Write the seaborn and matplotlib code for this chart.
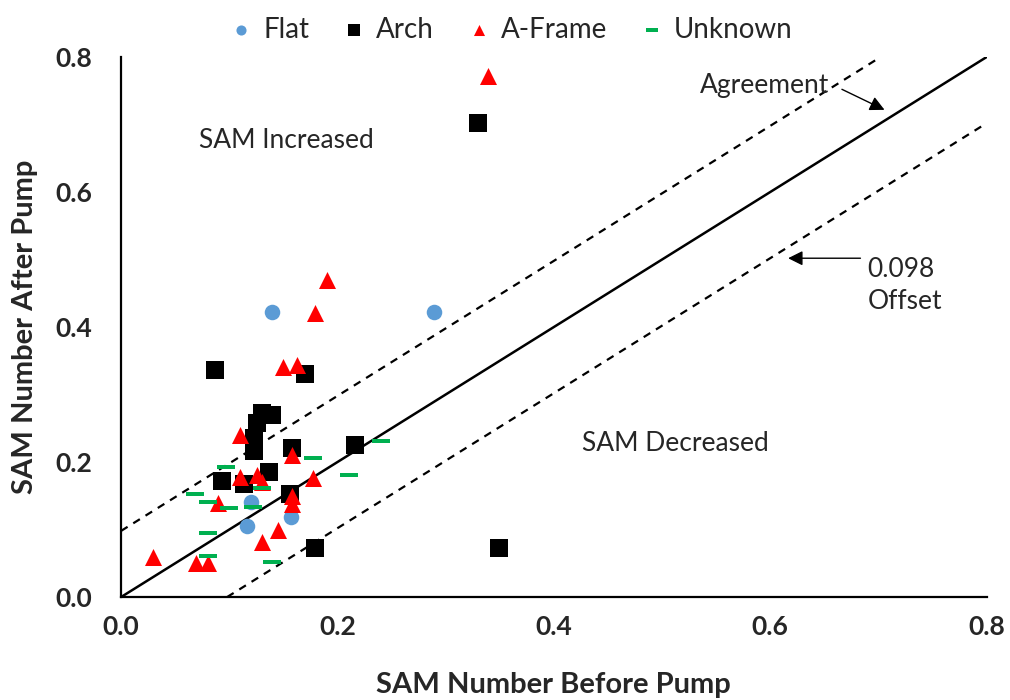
import numpy as np
import pandas as pd
import matplotlib
matplotlib.use("Agg")
import matplotlib.pyplot as plt
from matplotlib.path import Path
import seaborn as sns

# SAM numbers measured before and after the pump, by roof type
flat_before = [0.140, 0.289, 0.120, 0.116, 0.157]
flat_after = [0.422, 0.422, 0.141, 0.105, 0.118]

arch_before = [0.330, 0.349, 0.179, 0.087, 0.170, 0.130, 0.140, 0.126,
               0.123, 0.123, 0.158, 0.216, 0.093, 0.114, 0.137, 0.156]
arch_after = [0.702, 0.073, 0.073, 0.336, 0.330, 0.273, 0.270, 0.258,
              0.236, 0.216, 0.221, 0.225, 0.172, 0.167, 0.185, 0.153]

aframe_before = [0.339, 0.190, 0.179, 0.150, 0.163, 0.110, 0.158, 0.177,
                 0.110, 0.126, 0.130, 0.090, 0.158, 0.158, 0.145, 0.130,
                 0.030, 0.069, 0.080]
aframe_after = [0.772, 0.470, 0.421, 0.341, 0.344, 0.240, 0.210, 0.176,
                0.178, 0.181, 0.170, 0.139, 0.150, 0.138, 0.099, 0.081,
                0.059, 0.050, 0.050]

unknown_before = [0.240, 0.177, 0.211, 0.097, 0.130, 0.068, 0.080, 0.100,
                  0.122, 0.080, 0.080, 0.140]
unknown_after = [0.231, 0.206, 0.181, 0.193, 0.162, 0.153, 0.141, 0.132,
                 0.133, 0.095, 0.061, 0.052]

roof_types = ["Flat", "Arch", "A-Frame", "Unknown"]
offset = 0.098
ticks = [0.0, 0.2, 0.4, 0.6, 0.8]

df = pd.DataFrame({
    "before": flat_before + arch_before + aframe_before + unknown_before,
    "after": flat_after + arch_after + aframe_after + unknown_after,
    "type": (["Flat"] * len(flat_before) + ["Arch"] * len(arch_before)
             + ["A-Frame"] * len(aframe_before) + ["Unknown"] * len(unknown_before)),
})

sns.set_theme(style="white")
plt.rcParams["font.family"] = ["Lato", "DejaVu Sans"]

palette = {"Flat": "#5B9BD5", "Arch": "#000000", "A-Frame": "#FF0000", "Unknown": "#00B050"}
dash = Path([(-1, -0.28), (1, -0.28), (1, 0.28), (-1, 0.28), (-1, -0.28)],
            [Path.MOVETO, Path.LINETO, Path.LINETO, Path.LINETO, Path.CLOSEPOLY])
markers = {"Flat": "o", "Arch": "s", "A-Frame": "^", "Unknown": dash}
sizes = {"Flat": 125, "Arch": 150, "A-Frame": 150, "Unknown": 150}

fig = plt.figure(figsize=(10.1, 7.0), dpi=100)
ax = fig.add_axes([0.1198, 0.147, 0.857, 0.7715])

# reference lines: agreement and +/- offset
line_x = np.array([0.0, 0.8])
ax.plot(line_x, line_x, color="black", lw=1.8, zorder=1)
ax.plot([0.0, 0.8 - offset], [offset, 0.8], color="black", lw=1.6, ls=(0, (3.5, 3.0)), zorder=1)
ax.plot([offset, 0.8], [0.0, 0.8 - offset], color="black", lw=1.6, ls=(0, (3.5, 3.0)), zorder=1)

for t in roof_types:
    sub = df[df["type"] == t]
    sns.scatterplot(data=sub, x="before", y="after", color=palette[t],
                    marker=markers[t], s=sizes[t], linewidth=0, ax=ax,
                    label=t, zorder=3)

ax.set_xlim(0, 0.8)
ax.set_ylim(0, 0.8)
ax.set_xticks(ticks)
ax.set_yticks(ticks)
ax.set_xticklabels([f"{v:.1f}" for v in ticks], fontsize=19, fontweight="bold")
ax.set_yticklabels([f"{v:.1f}" for v in ticks], fontsize=19, fontweight="bold")
ax.tick_params(axis="x", length=0, pad=13)
ax.tick_params(axis="y", length=0, pad=21)

ax.set_xlabel("SAM Number Before Pump", fontsize=21, fontweight="bold")
ax.xaxis.label.set_va("baseline")
ax.xaxis.set_label_coords(0.548, 0.010, transform=fig.transFigure)
ax.set_ylabel("SAM Number After Pump", fontsize=21, fontweight="bold")
ax.yaxis.label.set_va("baseline")
ax.yaxis.label.set_rotation_mode("anchor")
ax.yaxis.set_label_coords(0.033, 0.533, transform=fig.transFigure)

for side in ["top", "right"]:
    ax.spines[side].set_visible(False)
for side in ["left", "bottom"]:
    ax.spines[side].set_color("black")
    ax.spines[side].set_linewidth(1.6)

# region and line annotations
ax.text(0.153, 0.677, "SAM Increased", fontsize=19, ha="center", va="center")
ax.text(0.512, 0.228, "SAM Decreased", fontsize=19, ha="center", va="center")
ax.text(0.595, 0.758, "Agreement", fontsize=19, ha="center", va="center")
ax.annotate("", xy=(0.708, 0.720), xytext=(0.664, 0.754),
            arrowprops=dict(arrowstyle="-|>", color="black", lw=1.0, mutation_scale=22))
ax.text(0.690, 0.462, "0.098\nOffset", fontsize=19, ha="left", va="center", linespacing=1.35)
ax.annotate("", xy=(0.614, 0.502), xytext=(0.686, 0.502),
            arrowprops=dict(arrowstyle="-|>", color="black", lw=1.0, mutation_scale=22))

handles, labels = ax.get_legend_handles_labels()
ax.legend(handles, labels, loc="upper center", bbox_to_anchor=(0.505, 1.012),
          bbox_transform=fig.transFigure, ncol=4, frameon=False, fontsize=20,
          markerscale=0.65, handletextpad=0.3, columnspacing=1.1, handlelength=1.0)

fig.savefig("out.png", dpi=100)
